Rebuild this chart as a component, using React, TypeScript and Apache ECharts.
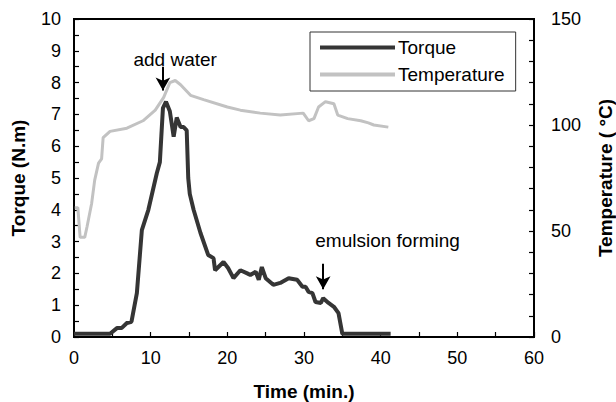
import React, { useEffect, useRef } from "react";
import * as echarts from "echarts";

const torqueTime = [0, 4.7, 5.6, 6.2, 6.9, 7.5, 8.2, 8.85, 9.7, 10.8, 11.2, 11.6, 12.0, 12.5, 13.0, 13.4, 13.9, 14.3, 14.7, 14.9, 15.1, 15.6, 16.5, 17.5, 18.2, 18.4, 19.5, 20.1, 20.8, 21.7, 22.6, 23.0, 23.7, 24.1, 24.5, 25.0, 26.0, 26.9, 28.0, 29.1, 29.8, 30.2, 30.6, 31.1, 31.5, 32.2, 32.5, 33.2, 33.9, 34.5, 35.0, 41.3];
const torqueValues = [0.1, 0.1, 0.28, 0.28, 0.44, 0.48, 1.38, 3.36, 4.0, 5.15, 5.5, 7.2, 7.4, 7.1, 6.3, 6.9, 6.6, 6.6, 6.5, 5.0, 4.5, 4.0, 3.27, 2.58, 2.48, 2.1, 2.36, 2.17, 1.85, 2.1, 2.0, 1.95, 2.05, 1.8, 2.2, 1.85, 1.64, 1.7, 1.85, 1.8, 1.58, 1.58, 1.42, 1.38, 1.1, 1.07, 1.22, 1.07, 0.95, 0.75, 0.1, 0.1];

const tempTime = [0.1, 0.5, 0.8, 1.4, 1.7, 2.3, 2.7, 3.2, 3.6, 3.8, 4.7, 6.9, 9.0, 10.6, 11.7, 12.5, 13.2, 13.9, 15.2, 16.9, 20, 21.7, 24.3, 26.9, 29.9, 30.6, 31.3, 31.9, 32.8, 33.9, 34.4, 35.7, 37.4, 38.4, 39.1, 41];
const tempValues = [61, 61, 47, 47, 52, 63, 74, 82, 84, 94, 97, 98.5, 102, 107, 113, 120, 121, 119, 114, 112, 108.5, 107, 105.6, 104.7, 105.6, 102, 103, 108.5, 111, 110, 104.7, 103, 102, 101, 100, 99];

const xTicks = { min: 0, max: 60, interval: 10 };
const torqueTicks = { min: 0, max: 10, interval: 1 };
const tempTicks = { min: 0, max: 150, interval: 50 };

const FONT = "Liberation Sans";
const TORQUE_COLOR = "#353535";
const TEMP_COLOR = "#c2c2c2";

export default function App() {
  const ref = useRef<HTMLDivElement>(null);
  useEffect(() => {
    if (!ref.current) return;
    document.body.style.margin = "0";
    const chart = echarts.init(ref.current, null, { renderer: "svg" });
    const axisLabel = { color: "#000", fontSize: 18, fontFamily: FONT };
    const titleStyle = { color: "#000", fontSize: 19, fontWeight: "bold", fontFamily: FONT };
    const tick = { show: true, inside: true, length: 5, lineStyle: { color: "#000", width: 1.2 } };
    chart.setOption({
      animation: false,
      backgroundColor: "#fff",
      grid: {
        left: 74, right: 82, top: 19, bottom: 65,
        containLabel: false,
        outerBoundsMode: "none",
        show: true, borderColor: "#000", borderWidth: 2, backgroundColor: "transparent",
      },
      legend: {
        left: 310,
        top: 32,
        orient: "vertical",
        backgroundColor: "#fff",
        borderColor: "#333",
        borderWidth: 1,
        borderRadius: 0,
        padding: [6, 11, 7, 10],
        itemWidth: 75,
        itemHeight: 4,
        itemGap: 8,
        textStyle: { color: "#000", fontSize: 19, fontFamily: FONT, lineHeight: 18, padding: [0, 0, 0, -2] },
        data: [
          { name: "Torque", icon: "rect" },
          { name: "Temperature", icon: "rect" },
        ],
      },
      xAxis: {
        type: "value",
        ...xTicks,
        name: "Time (min.)",
        nameLocation: "middle",
        nameGap: 45,
        nameTextStyle: titleStyle,
        axisLine: { show: true, lineStyle: { color: "#000", width: 2 } },
        axisTick: tick,
        minorTick: { show: true, splitNumber: 2, length: 5, lineStyle: { color: "#000", width: 1.2 } },
        axisLabel: { ...axisLabel, margin: 12 },
        splitLine: { show: false },
      },
      yAxis: [
        {
          type: "value",
          ...torqueTicks,
          name: "Torque (N.m)",
          nameLocation: "middle",
          nameGap: 46,
          nameTextStyle: titleStyle,
          axisLine: { show: true, lineStyle: { color: "#000", width: 2 } },
          axisTick: tick,
          minorTick: { show: true, splitNumber: 2, length: 5, lineStyle: { color: "#000", width: 1.2 } },
          axisLabel: { ...axisLabel, margin: 13 },
          splitLine: { show: false },
        },
        {
          type: "value",
          ...tempTicks,
          position: "right",
          name: "Temperature ( °C)",
          nameLocation: "middle",
          nameGap: 62,
          nameRotate: 90,
          nameTextStyle: titleStyle,
          axisLine: { show: true, lineStyle: { color: "#000", width: 2 } },
          axisTick: tick,
          minorTick: { show: true, splitNumber: 5, length: 5, lineStyle: { color: "#000", width: 1.2 } },
          axisLabel: { ...axisLabel, margin: 17 },
          splitLine: { show: false },
        },
      ],
      series: [
        {
          name: "Torque",
          type: "line",
          yAxisIndex: 0,
          showSymbol: false,
          symbol: "none",
          z: 3,
          lineStyle: { color: TORQUE_COLOR, width: 4 },
          itemStyle: { color: TORQUE_COLOR },
          data: torqueTime.map((t, i) => [t, torqueValues[i]]),
          markLine: {
            silent: true,
            symbol: ["none", "arrow"],
            symbolSize: [11, 13],
            lineStyle: { color: "#000", width: 2, type: "solid" },
            label: { show: false },
            data: [
              [{ coord: [11.6, 8.5] }, { coord: [11.6, 7.75] }],
              [{ coord: [32.5, 2.3] }, { coord: [32.5, 1.5] }],
            ],
          },
          markPoint: {
            silent: true,
            symbolSize: 0,
            label: { show: true, color: "#000", fontSize: 19, fontFamily: FONT, position: "inside" },
            data: [
              { coord: [13.2, 8.72], value: "add water", label: { formatter: "add water" } },
              { coord: [40.9, 3.05], value: "emulsion forming", label: { formatter: "emulsion forming" } },
            ],
          },
        },
        {
          name: "Temperature",
          type: "line",
          yAxisIndex: 1,
          showSymbol: false,
          symbol: "none",
          z: 2,
          lineStyle: { color: TEMP_COLOR, width: 3 },
          itemStyle: { color: TEMP_COLOR },
          data: tempTime.map((t, i) => [t, tempValues[i]]),
        },
      ],
    });
    return () => chart.dispose();
  }, []);
  return <div ref={ref} style={{ width: 616, height: 402 }} />;
}
